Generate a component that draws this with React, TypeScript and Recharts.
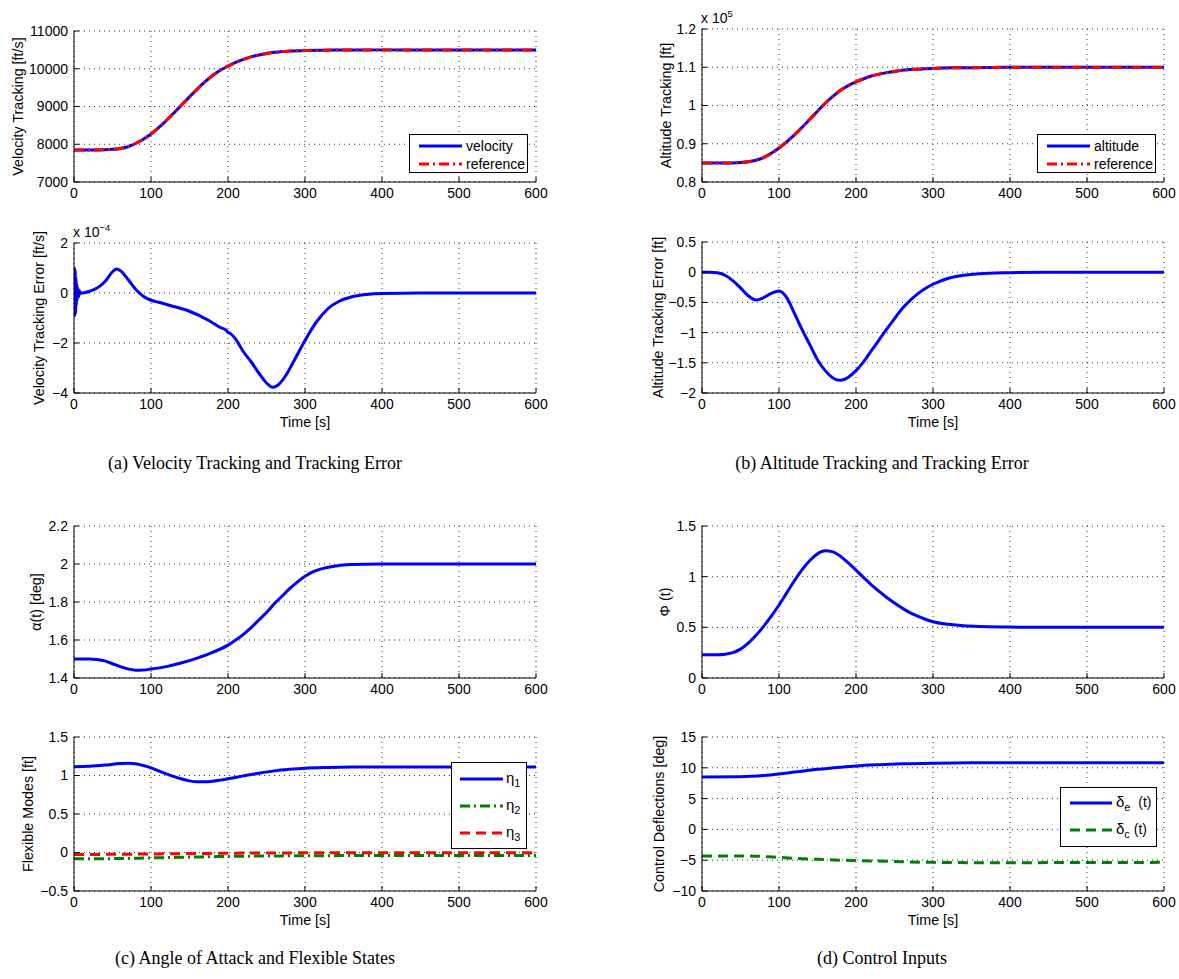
import React from 'react';
import { LineChart, Line, XAxis, YAxis, CartesianGrid, Legend, Label } from 'recharts';

const FONT = '"Liberation Sans", Arial, Helvetica, sans-serif';
const SERIF = '"Liberation Serif", "Times New Roman", serif';
const BLUE = '#0000ff';
const RED = '#ff0000';
const GREEN = '#008000';

const xTicks = [0, 100, 200, 300, 400, 500, 600];

// (a) / (b) top: tracking
const trackTime = [0, 20, 40, 50, 60, 70, 80, 90, 100, 110, 120, 130, 140, 150, 160, 170, 180, 190, 200, 210, 220, 230, 240, 250, 260, 280, 300, 325, 350, 400, 450, 500, 550, 600];
const velocity = [7850, 7850, 7855, 7865, 7888, 7935, 8020, 8130, 8270, 8440, 8630, 8835, 9045, 9255, 9460, 9650, 9820, 9960, 10070, 10170, 10250, 10315, 10365, 10405, 10435, 10468, 10485, 10493, 10497, 10500, 10500, 10500, 10500, 10500];
const velocityRef = [7850, 7850, 7855, 7865, 7888, 7935, 8020, 8130, 8270, 8440, 8630, 8835, 9045, 9255, 9460, 9650, 9820, 9960, 10070, 10170, 10250, 10315, 10365, 10405, 10435, 10468, 10485, 10493, 10497, 10500, 10500, 10500, 10500, 10500];
const altitude = [0.85, 0.85, 0.85, 0.851, 0.853, 0.857, 0.864, 0.875, 0.889, 0.905, 0.923, 0.943, 0.964, 0.985, 1.006, 1.024, 1.04, 1.052, 1.062, 1.07, 1.077, 1.082, 1.086, 1.089, 1.092, 1.095, 1.097, 1.0985, 1.099, 1.1, 1.1, 1.1, 1.1, 1.1];
const altitudeRef = [0.85, 0.85, 0.85, 0.851, 0.853, 0.857, 0.864, 0.875, 0.889, 0.905, 0.923, 0.943, 0.964, 0.985, 1.006, 1.024, 1.04, 1.052, 1.062, 1.07, 1.077, 1.082, 1.086, 1.089, 1.092, 1.095, 1.097, 1.0985, 1.099, 1.1, 1.1, 1.1, 1.1, 1.1];

// (a) bottom: velocity error, units of 1e-4
const velErrTime = [0, 0.5, 1, 1.5, 2, 2.5, 3, 3.5, 4, 5, 6, 7, 8, 10, 15, 20, 30, 40, 50, 55, 60, 70, 80, 90, 100, 110, 125, 150, 175, 190, 198, 200, 202, 210, 220, 230, 240, 250, 258, 265, 275, 285, 300, 315, 330, 345, 360, 380, 400, 450, 500, 550, 600];
const velocityError = [0, 1.0, -0.9, 0.9, -0.8, 0.6, -0.5, 0.35, -0.3, 0.2, -0.15, 0.1, -0.02, 0, 0.02, 0.07, 0.2, 0.45, 0.85, 0.96, 0.9, 0.55, 0.15, -0.13, -0.29, -0.37, -0.5, -0.73, -1.1, -1.38, -1.5, -1.58, -1.6, -1.85, -2.35, -2.75, -3.2, -3.6, -3.77, -3.68, -3.3, -2.75, -1.9, -1.15, -0.62, -0.32, -0.16, -0.06, -0.02, 0, 0, 0, 0];

// (b) bottom: altitude error
const altErrTime = [0, 10, 20, 30, 40, 50, 60, 70, 80, 90, 100, 110, 120, 130, 140, 150, 160, 170, 180, 190, 200, 210, 220, 230, 240, 250, 260, 270, 280, 290, 300, 320, 340, 360, 400, 450, 500, 550, 600];
const altitudeError = [0, 0, -0.01, -0.05, -0.14, -0.26, -0.39, -0.46, -0.42, -0.35, -0.31, -0.42, -0.68, -0.95, -1.2, -1.45, -1.63, -1.75, -1.79, -1.74, -1.63, -1.48, -1.3, -1.12, -0.94, -0.77, -0.6, -0.47, -0.36, -0.27, -0.2, -0.1, -0.05, -0.025, -0.008, 0, 0, 0, 0];

// (c) top: angle of attack
const alphaTime = [0, 20, 30, 40, 50, 60, 70, 80, 90, 100, 120, 140, 160, 180, 200, 210, 220, 230, 240, 250, 260, 270, 280, 290, 300, 310, 320, 340, 360, 400, 450, 500, 550, 600];
const alpha = [1.5, 1.5, 1.497, 1.49, 1.475, 1.46, 1.448, 1.441, 1.442, 1.447, 1.46, 1.48, 1.505, 1.535, 1.573, 1.6, 1.63, 1.665, 1.705, 1.745, 1.79, 1.83, 1.87, 1.905, 1.935, 1.958, 1.973, 1.99, 1.997, 2.0, 2.0, 2.0, 2.0, 2.0];

// (c) bottom: flexible modes
const flexTime = [0, 20, 40, 60, 70, 80, 90, 100, 110, 120, 130, 140, 150, 160, 170, 180, 190, 200, 220, 240, 260, 280, 300, 330, 360, 400, 450, 500, 550, 600];
const eta1 = [1.115, 1.12, 1.135, 1.155, 1.16, 1.152, 1.13, 1.1, 1.06, 1.02, 0.985, 0.955, 0.93, 0.918, 0.918, 0.925, 0.94, 0.958, 0.995, 1.03, 1.06, 1.08, 1.095, 1.105, 1.11, 1.112, 1.112, 1.112, 1.112, 1.112];
const eta2 = [-0.08, -0.08, -0.08, -0.078, -0.077, -0.075, -0.073, -0.07, -0.068, -0.066, -0.064, -0.062, -0.06, -0.058, -0.056, -0.054, -0.052, -0.05, -0.048, -0.046, -0.045, -0.043, -0.042, -0.041, -0.04, -0.04, -0.04, -0.04, -0.04, -0.04];
const eta3 = [-0.025, -0.025, -0.024, -0.023, -0.022, -0.021, -0.02, -0.019, -0.018, -0.017, -0.016, -0.015, -0.014, -0.013, -0.012, -0.011, -0.01, -0.009, -0.008, -0.007, -0.006, -0.005, -0.004, -0.003, -0.003, -0.002, -0.002, -0.002, -0.002, -0.002];

// (d) top: Phi
const phiTime = [0, 20, 30, 40, 50, 60, 70, 80, 90, 100, 110, 120, 130, 140, 150, 160, 170, 180, 190, 200, 210, 220, 230, 240, 250, 260, 270, 280, 290, 300, 320, 340, 360, 400, 450, 500, 550, 600];
const phi = [0.23, 0.23, 0.235, 0.25, 0.285, 0.345, 0.42, 0.51, 0.61, 0.72, 0.84, 0.96, 1.07, 1.16, 1.225, 1.255, 1.245, 1.2, 1.135, 1.065, 0.99, 0.92, 0.855, 0.795, 0.74, 0.69, 0.645, 0.61, 0.58, 0.555, 0.53, 0.515, 0.508, 0.503, 0.5, 0.5, 0.5, 0.5];

// (d) bottom: control deflections
const ctrlTime = [0, 50, 80, 100, 120, 150, 180, 200, 230, 260, 300, 350, 400, 500, 600];
const deltaE = [8.5, 8.55, 8.75, 9.0, 9.3, 9.75, 10.1, 10.3, 10.5, 10.65, 10.75, 10.8, 10.82, 10.82, 10.82];
const deltaC = [-4.3, -4.3, -4.4, -4.55, -4.7, -4.85, -5.0, -5.05, -5.15, -5.25, -5.35, -5.4, -5.4, -5.38, -5.35];

const rows = (time: number[], cols: Record<string, number[]>) =>
  time.map((t, i) => {
    const r: Record<string, number> = { t };
    Object.keys(cols).forEach((k) => (r[k] = cols[k][i]));
    return r;
  });

const ML = 74;
const MT = 20;
const MB = 50;
const MR = 24;
const PLOT_W = 462;

const tickStyle = { fill: '#000', fontSize: 14, fontFamily: FONT };
const fmt = (v: number) => String(v).replace('-', '\u2212');

type SeriesDef = { key: string; color: string; dash?: string };
type LegendDef = {
  x: number; y: number; w: number; h: number;
  lineX: number; lineLen: number; textX: number;
  rows: { y: number; label: React.ReactNode }[];
};

type PanelProps = {
  left: number; top: number; height: number;
  data: Record<string, number>[];
  series: SeriesDef[];
  yDomain: [number, number];
  yTicks: number[];
  yLabel: string;
  yLabelX: number;
  xLabel?: boolean;
  exponent?: string;
  legend?: LegendDef;
};

function LegendBox({ def, series }: { def: LegendDef; series: SeriesDef[] }) {
  return (
    <div style={{ position: 'relative', width: def.w, height: def.h, boxSizing: 'border-box', border: '1px solid #000', background: '#fff' }}>
      {def.rows.map((r, i) => (
        <React.Fragment key={i}>
          <svg style={{ position: 'absolute', left: def.lineX, top: r.y - 4 }} width={def.lineLen} height={8}>
            <line x1={0} y1={4} x2={def.lineLen} y2={4} stroke={series[i].color} strokeWidth={2.8} strokeDasharray={series[i].dash} />
          </svg>
          <div style={{ position: 'absolute', left: def.textX, top: r.y, transform: 'translateY(-50%)', fontFamily: FONT, fontSize: 14, lineHeight: 1, whiteSpace: 'nowrap', color: '#000' }}>
            {r.label}
          </div>
        </React.Fragment>
      ))}
    </div>
  );
}

function Panel(p: PanelProps) {
  const chartLeft = p.left - ML;
  const chartTop = p.top - MT;
  const width = ML + PLOT_W + MR;
  const height = MT + p.height + MB;
  const labelY = MT + p.height / 2;
  const labelX = p.yLabelX - chartLeft;
  return (
    <div style={{ position: 'absolute', left: chartLeft, top: chartTop }}>
      <LineChart width={width} height={height} data={p.data} margin={{ top: MT, right: MR, bottom: 0, left: 0 }}>
        <CartesianGrid stroke="#333" strokeDasharray="1 4" />
        <XAxis dataKey="t" type="number" domain={[0, 600]} ticks={xTicks} allowDataOverflow interval={0}
          height={MB} stroke="#000" tickSize={-5} tickMargin={11} tick={tickStyle}>
          {p.xLabel ? (
            <Label content={() => (
              <text x={ML + PLOT_W / 2} y={MT + p.height + 29} textAnchor="middle" dominantBaseline="central"
                fontSize={14.3} fontFamily={FONT} fill="#000">Time [s]</text>
            )} />
          ) : null}
        </XAxis>
        <XAxis xAxisId="top" orientation="top" dataKey="t" type="number" domain={[0, 600]} ticks={xTicks}
          allowDataOverflow interval={0} height={0} stroke="#000" tickSize={-5} tick={false} />
        <YAxis type="number" domain={p.yDomain} ticks={p.yTicks} allowDataOverflow interval={0} width={ML}
          stroke="#000" tickSize={-5} tickMargin={11} tick={tickStyle} tickFormatter={fmt}>
          <Label content={() => (
            <g>
              <text x={labelX} y={labelY} transform={`rotate(-90 ${labelX} ${labelY})`} textAnchor="middle"
                dominantBaseline="central" fontSize={14.3} fontFamily={FONT} fill="#000">{p.yLabel}</text>
              {p.exponent ? (
                <text x={ML - 1} y={MT - 6} fontSize={14} fontFamily={FONT} fill="#000">
                  x 10<tspan dy={-6} fontSize={9.5}>{p.exponent}</tspan>
                </text>
              ) : null}
            </g>
          )} />
        </YAxis>
        <YAxis yAxisId="right" orientation="right" type="number" domain={p.yDomain} ticks={p.yTicks}
          allowDataOverflow interval={0} width={0} stroke="#000" tickSize={-5} tick={false} />
        {p.series.map((s) => (
          <Line key={s.key} dataKey={s.key} type="monotone" dot={false} stroke={s.color} strokeWidth={3}
            strokeDasharray={s.dash} isAnimationActive={false} />
        ))}
        {p.legend ? (
          <Legend layout="vertical" align="center" verticalAlign="middle"
            wrapperStyle={{ left: p.legend.x - chartLeft, top: p.legend.y - chartTop, width: p.legend.w, height: p.legend.h }}
            content={() => <LegendBox def={p.legend as LegendDef} series={p.series} />} />
        ) : null}
      </LineChart>
    </div>
  );
}

function Caption({ x, y, text }: { x: number; y: number; text: string }) {
  return (
    <div style={{ position: 'absolute', left: x - 250, top: y, width: 500, textAlign: 'center', transform: 'translateY(-50%)',
      fontFamily: SERIF, fontSize: 18, lineHeight: 1, color: '#000', whiteSpace: 'nowrap' }}>
      {text}
    </div>
  );
}

const sub = (base: string, s: string, tail = '') => (
  <span><span style={{ fontSize: 15 }}>{base}</span><sub style={{ fontSize: 11, verticalAlign: -4 }}>{s}</sub>{tail}</span>
);

export default function App() {
  return (
    <div style={{ position: 'absolute', left: 0, top: 0, width: 1179, height: 979, background: '#fff', overflow: 'hidden' }}>
      <Panel left={74} top={31} height={151}
        data={rows(trackTime, { v: velocity, r: velocityRef })}
        series={[{ key: 'v', color: BLUE }, { key: 'r', color: RED, dash: '10 4 2 4' }]}
        yDomain={[7000, 11000]} yTicks={[7000, 8000, 9000, 10000, 11000]}
        yLabel="Velocity Tracking [ft/s]" yLabelX={17.5}
        legend={{ x: 409, y: 134, w: 119, h: 39, lineX: 9, lineLen: 43, textX: 56,
          rows: [{ y: 11, label: 'velocity' }, { y: 29, label: 'reference' }] }} />
      <Panel left={74} top={243} height={150}
        data={rows(velErrTime, { e: velocityError })}
        series={[{ key: 'e', color: BLUE }]}
        yDomain={[-4, 2]} yTicks={[-4, -2, 0, 2]}
        yLabel="Velocity Tracking Error [ft/s]" yLabelX={39} xLabel exponent={'\u22124'} />
      <Panel left={702} top={29} height={153}
        data={rows(trackTime, { h: altitude, r: altitudeRef })}
        series={[{ key: 'h', color: BLUE }, { key: 'r', color: RED, dash: '10 4 2 4' }]}
        yDomain={[0.8, 1.2]} yTicks={[0.8, 0.9, 1, 1.1, 1.2]}
        yLabel="Altitude Tracking [ft]" yLabelX={666} exponent="5"
        legend={{ x: 1037, y: 134, w: 119, h: 39, lineX: 9, lineLen: 43, textX: 56,
          rows: [{ y: 11, label: 'altitude' }, { y: 29, label: 'reference' }] }} />
      <Panel left={702} top={242} height={151}
        data={rows(altErrTime, { e: altitudeError })}
        series={[{ key: 'e', color: BLUE }]}
        yDomain={[-2, 0.5]} yTicks={[-2, -1.5, -1, -0.5, 0, 0.5]}
        yLabel="Altitude Tracking Error [ft]" yLabelX={658} xLabel />
      <Panel left={74} top={526} height={152}
        data={rows(alphaTime, { a: alpha })}
        series={[{ key: 'a', color: BLUE }]}
        yDomain={[1.4, 2.2]} yTicks={[1.4, 1.6, 1.8, 2, 2.2]}
        yLabel="α(t) [deg]" yLabelX={36} />
      <Panel left={74} top={737} height={154}
        data={rows(flexTime, { n1: eta1, n2: eta2, n3: eta3 })}
        series={[{ key: 'n1', color: BLUE }, { key: 'n2', color: GREEN, dash: '10 4 2 4' }, { key: 'n3', color: RED, dash: '10 6' }]}
        yDomain={[-0.5, 1.5]} yTicks={[-0.5, 0, 0.5, 1, 1.5]}
        yLabel="Flexible Modes [ft]" yLabelX={28} xLabel
        legend={{ x: 451, y: 762, w: 76, h: 87, lineX: 8, lineLen: 43, textX: 54,
          rows: [{ y: 16, label: sub('η', '1') }, { y: 43, label: sub('η', '2') }, { y: 70, label: sub('η', '3') }] }} />
      <Panel left={702} top={526} height={152}
        data={rows(phiTime, { f: phi })}
        series={[{ key: 'f', color: BLUE }]}
        yDomain={[0, 1.5]} yTicks={[0, 0.5, 1, 1.5]}
        yLabel="Φ (t)" yLabelX={665} />
      <Panel left={702} top={737} height={154}
        data={rows(ctrlTime, { de: deltaE, dc: deltaC })}
        series={[{ key: 'de', color: BLUE }, { key: 'dc', color: GREEN, dash: '10 6' }]}
        yDomain={[-10, 15]} yTicks={[-10, -5, 0, 5, 10, 15]}
        yLabel="Control Deflections [deg]" yLabelX={659} xLabel
        legend={{ x: 1060, y: 787, w: 97, h: 60, lineX: 9, lineLen: 42, textX: 55,
          rows: [{ y: 15, label: sub('δ', 'e', '\u00a0\u00a0(t)') }, { y: 42, label: sub('δ', 'c', ' (t)') }] }} />
      <Caption x={255} y={463} text="(a) Velocity Tracking and Tracking Error" />
      <Caption x={882} y={463} text="(b) Altitude Tracking and Tracking Error" />
      <Caption x={255} y={958} text="(c) Angle of Attack and Flexible States" />
      <Caption x={882} y={958} text="(d) Control Inputs" />
    </div>
  );
}
